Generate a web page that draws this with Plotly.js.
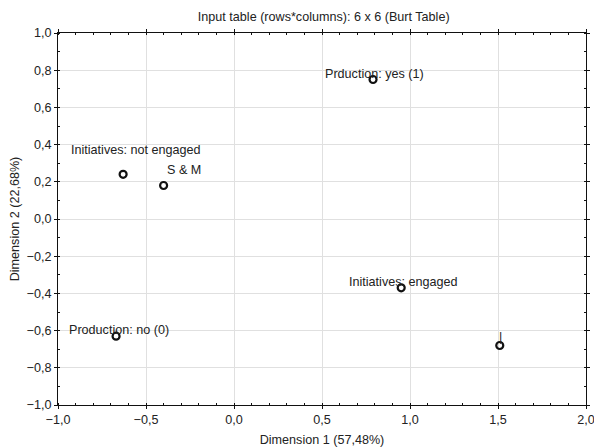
<!DOCTYPE html>
<html>
<head>
<meta charset="utf-8">
<script src="https://cdn.plot.ly/plotly-3.0.1.min.js"></script>
<style>html,body{margin:0;padding:0;background:#fff;}#chart{width:594px;height:447px;}</style>
</head>
<body>
<div id="chart"></div>
<script>
const labels = ["Initiatives: not engaged", "S & M", "Prduction: yes (1)", "Initiatives: engaged", "Production: no (0)", "|"];
const dim1 = [-0.63, -0.40, 0.79, 0.95, -0.67, 1.51];
const dim2 = [0.24, 0.18, 0.75, -0.37, -0.63, -0.68];

const shifts = [[-54, 24], [1, 16], [-50, 6], [-54, 6], [-49, 6], [-3, 8]];
const FONT = 'Liberation Sans, Arial, sans-serif';
const FS = 12.6;

const trace = {
  x: dim1, y: dim2, type: 'scatter', mode: 'markers',
  marker: {symbol: 'circle-open', size: 7, color: '#111', line: {width: 2.2, color: '#111'}},
  hoverinfo: 'none'
};

const annotations = labels.map((t, i) => ({
  x: dim1[i], y: dim2[i], xref: 'x', yref: 'y', text: t, showarrow: false,
  xanchor: 'left', yanchor: 'middle', xshift: shifts[i][0], yshift: shifts[i][1],
  font: {family: FONT, size: FS, color: '#222'}
}));

const axisCommon = {
  showline: true, linecolor: '#111', linewidth: 1, mirror: 'ticks',
  ticks: 'outside', ticklen: 3, tickcolor: '#111', tickwidth: 1,
  showgrid: true, gridcolor: '#e0e0e0', gridwidth: 1, zeroline: false,
  ticklabeloverflow: 'allow',
  tickformat: '.1f', tickfont: {family: FONT, size: FS, color: '#222'}
};

const layout = {
  width: 594, height: 447,
  margin: {l: 58, r: 8, t: 33, b: 42},
  paper_bgcolor: '#fff', plot_bgcolor: '#fff',
  separators: ', ',
  showlegend: false,
  title: {text: 'Input table (rows*columns): 6 x 6 (Burt Table)', x: 0.545, xanchor: 'center', y: 0.962, yanchor: 'middle',
          font: {family: FONT, size: FS, color: '#222'}},
  xaxis: Object.assign({}, axisCommon, {
    range: [-1, 2], dtick: 0.5, tick0: -1,
    minor: {ticks: 'inside', ticklen: 2, tickcolor: '#111', showgrid: false, dtick: 0.1},
    title: {text: 'Dimension 1 (57,48%)', standoff: 9, font: {family: FONT, size: FS, color: '#222'}}
  }),
  yaxis: Object.assign({}, axisCommon, {
    range: [-1, 1], dtick: 0.2, tick0: -1,
    minor: {ticks: 'inside', ticklen: 2, tickcolor: '#111', showgrid: false, dtick: 0.1},
    title: {text: 'Dimension 2 (22,68%)', standoff: 4, font: {family: FONT, size: FS, color: '#222'}}
  }),
  annotations: annotations
};

Plotly.newPlot('chart', [trace], layout, {displayModeBar: false, staticPlot: true});
</script>
</body>
</html>
